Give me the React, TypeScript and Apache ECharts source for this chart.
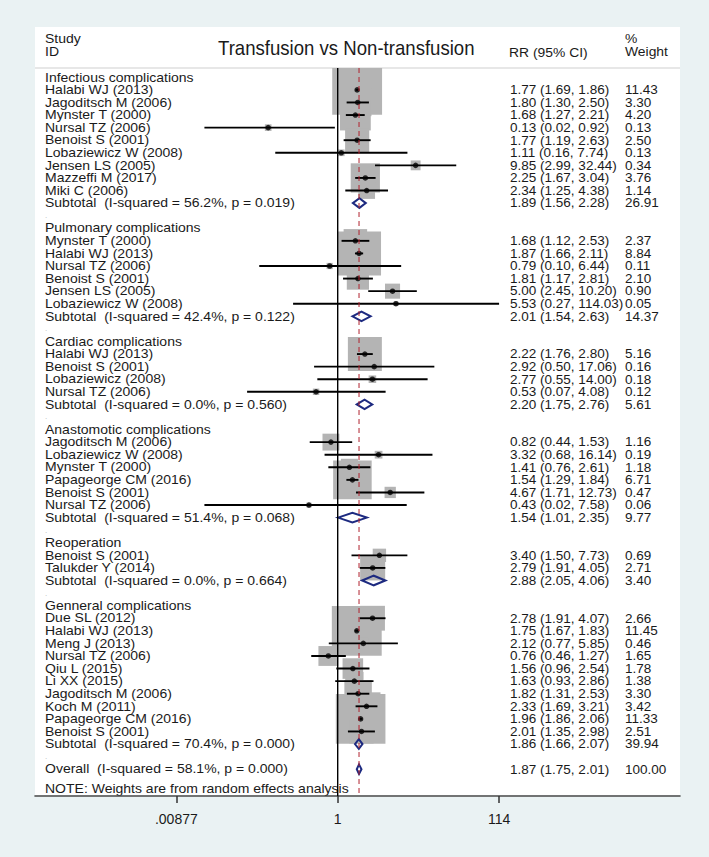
import React, { useEffect, useRef } from "react";
import * as echarts from "echarts";

type Study = [string, number, number, number, number]; // label, RR, lower, upper, weight

const groupTitles = [
  "Infectious complications",
  "Pulmonary complications",
  "Cardiac complications",
  "Anastomotic complications",
  "Reoperation",
  "Genneral complications",
];

const infectiousStudies: Study[] = [
  ["Halabi WJ (2013)", 1.77, 1.69, 1.86, 11.43],
  ["Jagoditsch M (2006)", 1.8, 1.3, 2.5, 3.3],
  ["Mynster T (2000)", 1.68, 1.27, 2.21, 4.2],
  ["Nursal TZ (2006)", 0.13, 0.02, 0.92, 0.13],
  ["Benoist S (2001)", 1.77, 1.19, 2.63, 2.5],
  ["Lobaziewicz W (2008)", 1.11, 0.16, 7.74, 0.13],
  ["Jensen LS (2005)", 9.85, 2.99, 32.44, 0.34],
  ["Mazzeffi M (2017)", 2.25, 1.67, 3.04, 3.76],
  ["Miki C (2006)", 2.34, 1.25, 4.38, 1.14],
];
const pulmonaryStudies: Study[] = [
  ["Mynster T (2000)", 1.68, 1.12, 2.53, 2.37],
  ["Halabi WJ (2013)", 1.87, 1.66, 2.11, 8.84],
  ["Nursal TZ (2006)", 0.79, 0.1, 6.44, 0.11],
  ["Benoist S (2001)", 1.81, 1.17, 2.81, 2.1],
  ["Jensen LS (2005)", 5.0, 2.45, 10.2, 0.9],
  ["Lobaziewicz W (2008)", 5.53, 0.27, 114.03, 0.05],
];
const cardiacStudies: Study[] = [
  ["Halabi WJ (2013)", 2.22, 1.76, 2.8, 5.16],
  ["Benoist S (2001)", 2.92, 0.5, 17.06, 0.16],
  ["Lobaziewicz (2008)", 2.77, 0.55, 14.0, 0.18],
  ["Nursal TZ (2006)", 0.53, 0.07, 4.08, 0.12],
];
const anastomoticStudies: Study[] = [
  ["Jagoditsch M (2006)", 0.82, 0.44, 1.53, 1.16],
  ["Lobaziewicz W (2008)", 3.32, 0.68, 16.14, 0.19],
  ["Mynster T (2000)", 1.41, 0.76, 2.61, 1.18],
  ["Papageorge CM (2016)", 1.54, 1.29, 1.84, 6.71],
  ["Benoist S (2001)", 4.67, 1.71, 12.73, 0.47],
  ["Nursal TZ (2006)", 0.43, 0.02, 7.58, 0.06],
];
const reoperationStudies: Study[] = [
  ["Benoist S (2001)", 3.4, 1.5, 7.73, 0.69],
  ["Talukder Y (2014)", 2.79, 1.91, 4.05, 2.71],
];
const generalStudies: Study[] = [
  ["Due SL (2012)", 2.78, 1.91, 4.07, 2.66],
  ["Halabi WJ (2013)", 1.75, 1.67, 1.83, 11.45],
  ["Meng J (2013)", 2.12, 0.77, 5.85, 0.46],
  ["Nursal TZ (2006)", 0.76, 0.46, 1.27, 1.65],
  ["Qiu L (2015)", 1.56, 0.96, 2.54, 1.78],
  ["Li XX (2015)", 1.63, 0.93, 2.86, 1.38],
  ["Jagoditsch M (2006)", 1.82, 1.31, 2.53, 3.3],
  ["Koch M (2011)", 2.33, 1.69, 3.21, 3.42],
  ["Papageorge CM (2016)", 1.96, 1.86, 2.06, 11.33],
  ["Benoist S (2001)", 2.01, 1.35, 2.98, 2.51],
];
const groupStudies = [
  infectiousStudies,
  pulmonaryStudies,
  cardiacStudies,
  anastomoticStudies,
  reoperationStudies,
  generalStudies,
];

const subtotalRR = [1.89, 2.01, 2.2, 1.54, 2.88, 1.86];
const subtotalLo = [1.56, 1.54, 1.75, 1.01, 2.05, 1.66];
const subtotalHi = [2.28, 2.63, 2.76, 2.35, 4.06, 2.07];
const subtotalWeight = [26.91, 14.37, 5.61, 9.77, 3.4, 39.94];
const subtotalI2 = ["56.2%", "42.4%", "0.0%", "51.4%", "0.0%", "70.4%"];
const subtotalP = ["0.019", "0.122", "0.560", "0.068", "0.664", "0.000"];

const overallRR = 1.87;
const overallLo = 1.75;
const overallHi = 2.01;
const overallWeight = 100.0;
const overallI2 = "58.1%";
const overallP = "0.000";

const axisTickValues = [0.00877, 1, 114];
const axisTickLabels = [".00877", "1", "114"];

// ---------- layout ----------
const W = 709;
const H = 857;
const BOX_L = 35;
const BOX_R = 680;
const BOX_T = 27;
const HEAD_Y = 68;
const AXIS_Y = 796;
const X_NULL = 337.7;
const PX_PER_LN = 34.07;
const ROW0 = 77.3;
const ROWH = 12.58;
const FONT = "'Liberation Sans', Arial, Helvetica, sans-serif";
const TEXT = "#1a1a1a";
const NAVY = "#1d2a80";
const ROW_FS = 12.4;

const xMin = (BOX_L - X_NULL) / PX_PER_LN;
const xMax = (BOX_R - X_NULL) / PX_PER_LN;
const yMin = (HEAD_Y - ROW0) / ROWH;
const yMax = (AXIS_Y - ROW0) / ROWH;

const fmt = (v: number) => v.toFixed(2);

type Row = {
  kind: "heading" | "study" | "subtotal" | "blank" | "overall";
  label: string;
  rr?: number;
  lo?: number;
  hi?: number;
  w?: number;
};

function buildRows(): Row[] {
  const rows: Row[] = [];
  groupTitles.forEach((title, g) => {
    rows.push({ kind: "heading", label: title });
    groupStudies[g].forEach((s) =>
      rows.push({ kind: "study", label: s[0], rr: s[1], lo: s[2], hi: s[3], w: s[4] })
    );
    rows.push({
      kind: "subtotal",
      label: `Subtotal  (I-squared = ${subtotalI2[g]}, p = ${subtotalP[g]})`,
      rr: subtotalRR[g],
      lo: subtotalLo[g],
      hi: subtotalHi[g],
      w: subtotalWeight[g],
    });
    rows.push({ kind: "blank", label: "." });
  });
  rows.push({
    kind: "overall",
    label: `Overall  (I-squared = ${overallI2}, p = ${overallP})`,
    rr: overallRR,
    lo: overallLo,
    hi: overallHi,
    w: overallWeight,
  });
  return rows;
}

const rowText = (text: string, size: number, fill = TEXT) => ({
  text,
  fontSize: size,
  fontFamily: FONT,
  fill,
  lineHeight: size,
  textVerticalAlign: "middle",
});

// text element with horizontal stretch (Stata text is wider than it is tall)
const txt = (x: number, y: number, text: string, size: number, sx: number, fill = TEXT) => ({
  type: "text",
  x,
  y,
  scaleX: sx,
  style: rowText(text, size, fill),
});

export default function App() {
  const ref = useRef<HTMLDivElement>(null);

  useEffect(() => {
    if (!ref.current) return;
    const chart = echarts.init(ref.current, undefined, { renderer: "svg" });
    const rows = buildRows();
    const ln = Math.log;

    const studyData: number[][] = [];
    const ciData: number[][] = [];
    const dotData: number[][] = [];
    const diamondData: number[][] = [];
    const tableData: number[][] = [];
    rows.forEach((r, i) => {
      tableData.push([0, i]);
      if (r.kind === "study") {
        studyData.push([ln(r.rr!), i, r.w!]);
        ciData.push([ln(r.lo!), ln(r.hi!), i]);
        dotData.push([ln(r.rr!), i]);
      } else if (r.kind === "subtotal" || r.kind === "overall") {
        diamondData.push([ln(r.rr!), ln(r.lo!), ln(r.hi!), i]);
      }
    });

    const tickLn = axisTickValues.map((v) => ln(v));

    const option: any = {
      animation: false,
      backgroundColor: "#EAF2F3",
      grid: {
        left: BOX_L,
        top: HEAD_Y,
        width: BOX_R - BOX_L,
        height: AXIS_Y - HEAD_Y,
        containLabel: false,
      },
      xAxis: {
        type: "value",
        min: xMin,
        max: xMax,
        axisLine: { show: true, onZero: false, lineStyle: { color: "#4a4a4a", width: 1.6 } },
        axisTick: {
          show: true,
          customValues: tickLn,
          length: 7,
          lineStyle: { color: "#333", width: 1.5 },
        },
        axisLabel: {
          show: true,
          customValues: tickLn,
          margin: 16,
          fontSize: 14,
          fontFamily: FONT,
          color: TEXT,
          formatter: (v: number) => {
            let best = 0;
            tickLn.forEach((t, k) => {
              if (Math.abs(t - v) < Math.abs(tickLn[best] - v)) best = k;
            });
            return axisTickLabels[best];
          },
        },
        splitLine: { show: false },
      },
      yAxis: {
        type: "value",
        min: yMin,
        max: yMax,
        inverse: true,
        show: false,
        splitLine: { show: false },
      },
      graphic: [
        {
          type: "rect",
          z: -5,
          shape: { x: BOX_L, y: BOX_T, width: BOX_R - BOX_L, height: AXIS_Y - BOX_T - 1 },
          style: { fill: "#ffffff" },
          silent: true,
        },
        {
          type: "line",
          z: -4,
          shape: { x1: BOX_L, y1: HEAD_Y, x2: BOX_R, y2: HEAD_Y },
          style: { stroke: "#cfcfcf", lineWidth: 1 },
          silent: true,
        },
        txt(45, 39, "Study", ROW_FS, 1.13),
        txt(45, 52, "ID", ROW_FS, 1.13),
        {
          type: "text",
          x: 218,
          y: 48,
          scaleX: 0.93,
          style: {
            text: "Transfusion vs Non-transfusion",
            fontSize: 20,
            fontFamily: FONT,
            fill: TEXT,
            textVerticalAlign: "middle",
          },
        },
        txt(509, 53, "RR (95% CI)", ROW_FS, 1.12),
        txt(625, 39, "%", ROW_FS, 1.12),
        txt(625, 52, "Weight", ROW_FS, 1.12),
        txt(45, 789, "NOTE: Weights are from random effects analysis", ROW_FS, 1.13),
      ],
      series: [
        {
          type: "line",
          data: [
            [ln(overallRR), yMin],
            [ln(overallRR), yMax],
          ],
          symbol: "none",
          silent: true,
          lineStyle: { color: "#b0222e", width: 1, type: [5, 4] },
        },
        {
          type: "line",
          data: [
            [0, yMin],
            [0, yMax],
          ],
          symbol: "none",
          silent: true,
          lineStyle: { color: "#000", width: 1.4 },
        },
        {
          type: "custom",
          clip: true,
          silent: true,
          data: studyData,
          renderItem: (params: any, api: any) => {
            const c = api.coord([api.value(0), api.value(1)]);
            const s = 1.5 + 14.3 * Math.sqrt(api.value(2));
            return {
              type: "rect",
              shape: { x: c[0] - s / 2, y: c[1] - s / 2, width: s, height: s },
              style: { fill: "#b4b4b4" },
            };
          },
        },
        {
          type: "custom",
          clip: true,
          silent: true,
          data: ciData,
          renderItem: (params: any, api: any) => {
            const p1 = api.coord([api.value(0), api.value(2)]);
            const p2 = api.coord([api.value(1), api.value(2)]);
            return {
              type: "line",
              shape: { x1: p1[0], y1: p1[1], x2: p2[0], y2: p2[1] },
              style: { stroke: "#000", lineWidth: 1.9 },
            };
          },
        },
        {
          type: "scatter",
          silent: true,
          data: dotData,
          symbol: "circle",
          symbolSize: 5.5,
          itemStyle: { color: "#000" },
        },
        {
          type: "custom",
          clip: true,
          silent: true,
          data: diamondData,
          renderItem: (params: any, api: any) => {
            const row = api.value(3);
            const c = api.coord([api.value(0), row]);
            const l = api.coord([api.value(1), row]);
            const r = api.coord([api.value(2), row]);
            const h = 4.8;
            return {
              type: "polygon",
              shape: {
                points: [
                  [l[0], c[1]],
                  [c[0], c[1] - h],
                  [r[0], c[1]],
                  [c[0], c[1] + h],
                ],
              },
              style: { fill: "none", stroke: NAVY, lineWidth: 2 },
            };
          },
        },
        {
          type: "custom",
          clip: false,
          silent: true,
          data: tableData,
          renderItem: (params: any, api: any) => {
            const i = api.value(1);
            const r = rows[i];
            const y = api.coord([0, i])[1];
            const children: any[] = [];
            if (r.kind === "blank") {
              children.push(txt(45, y, ".", 8, 1, "#b8b8b8"));
            } else {
              children.push(txt(45, y, r.label, ROW_FS, 1.13));
            }
            if (r.rr !== undefined) {
              children.push(
                txt(510, y, `${fmt(r.rr)} (${fmt(r.lo!)}, ${fmt(r.hi!)})`, ROW_FS, 1.09)
              );
              children.push(txt(625, y, fmt(r.w!), ROW_FS, 1.09));
            }
            return { type: "group", children };
          },
        },
      ],
    };

    chart.setOption(option);
    return () => chart.dispose();
  }, []);

  return (
    <div
      ref={ref}
      style={{ position: "absolute", left: 0, top: 0, width: W, height: H }}
    />
  );
}
